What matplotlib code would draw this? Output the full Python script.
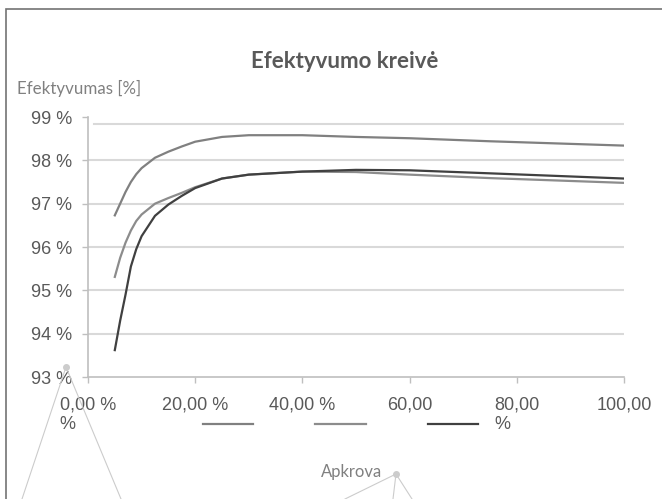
import matplotlib.pyplot as plt
from matplotlib.lines import Line2D
from matplotlib.patches import Rectangle

plt.close("all")

# load [%] and efficiency [%]
load = [5, 6, 7, 8, 9, 10, 12.5, 15, 17.5, 20, 25, 30, 40, 50, 60, 75, 100]
eff_top = [96.73, 97.00, 97.27, 97.50, 97.68, 97.82, 98.06, 98.20, 98.32, 98.43,
           98.54, 98.58, 98.58, 98.54, 98.51, 98.44, 98.34]
eff_mid = [95.31, 95.75, 96.10, 96.38, 96.60, 96.75, 97.00, 97.13, 97.25, 97.38,
           97.58, 97.67, 97.74, 97.73, 97.67, 97.59, 97.48]
eff_dark = [93.62, 94.30, 94.90, 95.55, 95.95, 96.25, 96.72, 96.98, 97.18, 97.36,
            97.58, 97.67, 97.74, 97.78, 97.77, 97.70, 97.58]

x_ticks = [0, 20, 40, 60, 80, 100]
x_labels = ["0,00 %\n%", "20,00 %", "40,00 %", "60,00", "80,00\n%", "100,00"]
y_ticks = [93, 94, 95, 96, 97, 98, 99]
y_labels = ["93 %", "94 %", "95 %", "96 %", "97 %", "98 %", "99 %"]

title = "Efektyvumo kreivė"
y_title = "Efektyvumas [%]"
x_title = "Apkrova"

W, H = 662, 499
fig = plt.figure(figsize=(W / 100, H / 100), dpi=100)
ax = fig.add_axes([88 / W, 1 - 377 / H, 536 / W, 260 / H])

# grid
for v in y_ticks[1:-1]:
    ax.axhline(v, color="#d9d9d9", lw=1.5, zorder=0)
ax.axhline(98.83, xmin=0.011, color="#d9d9d9", lw=1.5, zorder=0)

l1, = ax.plot(load, eff_top, color="#808080", lw=1.6)
l2, = ax.plot(load, eff_mid, color="#8c8c8c", lw=1.6)
l3, = ax.plot(load, eff_dark, color="#404040", lw=1.6)

ax.set_xlim(0, 100)
ax.set_ylim(93, 99)
ax.set_xticks(x_ticks)
ax.set_xticklabels(x_labels, fontsize=13, family="Liberation Sans",
                   color="#595959", multialignment="left")
ax.set_yticks(y_ticks)
ax.set_yticklabels(y_labels, fontsize=13, family="Liberation Sans", color="#595959")
ax.tick_params(axis="x", length=4.5, width=1, color="#bfbfbf", pad=9.5)
ax.tick_params(axis="y", length=4, width=1, color="#bfbfbf", pad=7.5)
for s in ["top", "right"]:
    ax.spines[s].set_visible(False)
for s in ["left", "bottom"]:
    ax.spines[s].set_color("#bfbfbf")
    ax.spines[s].set_linewidth(1.2)

fig.text(345 / W, 1 - 62 / H, title, ha="center", va="center", fontsize=16,
         fontweight="bold", family="Lato", color="#595959")
fig.text(17 / W, 1 - 88 / H, y_title, ha="left", va="center", fontsize=12.2,
         family="Lato", color="#808080")
fig.text(352 / W, 1 - 472 / H, x_title, ha="center", va="center", fontsize=12,
         family="Lato", color="#808080")

fig.legend([l1, l2, l3], ["", "", ""], ncol=3, frameon=False, loc="center",
           bbox_to_anchor=(340.5 / W, 1 - 425 / H), fontsize=13,
           handlelength=2.8, handletextpad=0, columnspacing=3.44)

# outer frame (cut at right/bottom)
fig.add_artist(Rectangle((6 / W, -0.1), 1.2, 1 - 9 / H + 0.1, transform=fig.transFigure,
                         fill=False, edgecolor="#737373", lw=1.2))

# leader lines
def leader(p0, ends):
    for e in ends:
        fig.add_artist(Line2D([p0[0] / W, e[0] / W], [1 - p0[1] / H, 1 - e[1] / H],
                              color="#cccccc", lw=0.8, transform=fig.transFigure))
    fig.add_artist(Line2D([p0[0] / W], [1 - p0[1] / H], marker="o", ms=4,
                          color="#cccccc", transform=fig.transFigure))

leader((66, 367), [(22, 499), (121, 499)])
leader((396, 474), [(345, 499), (393, 499), (412, 499)])

fig.savefig("out.png", dpi=100)
